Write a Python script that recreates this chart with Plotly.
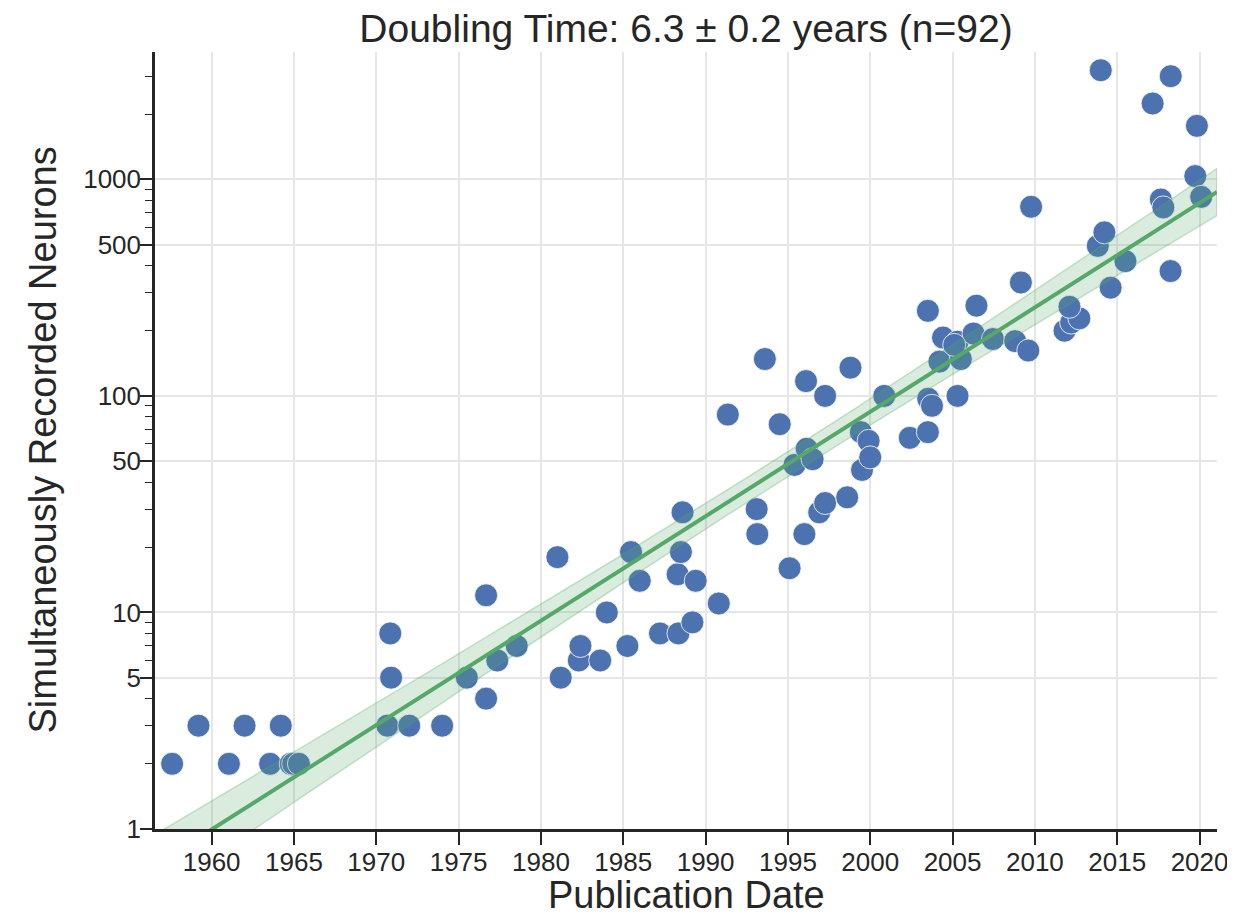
import numpy as np
import plotly.graph_objects as go

# ---- data ----
years = [
    1957.6, 1959.2, 1961.05, 1962.0, 1963.55, 1964.2, 1964.8, 1964.95, 1965.3,
    1970.85, 1970.9, 1970.67, 1972.0, 1974.0, 1975.5, 1976.67, 1976.67, 1977.35, 1978.53,
    1981.0, 1981.2, 1982.3, 1982.4, 1983.6, 1984.0, 1985.25, 1985.47, 1986.0,
    1987.23, 1988.35, 1988.3, 1988.5, 1988.6, 1989.2, 1989.4, 1990.8,
    1991.35, 1993.1, 1993.14, 1993.6, 1994.5, 1995.1, 1995.4, 1996.0, 1996.1,
    1996.14, 1996.5, 1996.9, 1997.26, 1997.26, 1998.6, 1998.8, 1999.43, 1999.5,
    1999.9, 2000.0, 2000.85, 2002.4,
    2003.5, 2003.5, 2003.52, 2003.75, 2004.2, 2004.42, 2005.3, 2005.3, 2005.5,
    2006.27, 2006.45, 2007.45, 2008.8, 2009.15, 2009.6, 2009.77, 2011.8, 2012.2,
    2012.7, 2012.1, 2005.1,
    2013.82, 2014.0, 2014.22, 2014.6, 2015.5, 2017.15, 2017.65, 2017.8, 2018.24,
    2018.25, 2019.74, 2019.84, 2020.1,
]
neurons = [
    2, 3, 2, 3, 2, 3, 2, 2, 2,
    8, 5, 3, 3, 3, 5, 12, 4, 6, 7,
    18, 5, 6, 7, 6, 10, 7, 19, 14,
    8, 8, 15, 19, 29, 9, 14, 11,
    82, 30, 23, 148, 74, 16, 48, 23, 117,
    57, 51, 29, 100, 32, 34, 135, 68, 45.5,
    62, 52, 100, 64,
    68, 247, 97, 90, 144, 186, 178, 100, 148,
    194, 261, 183, 179, 334, 162, 747, 200, 218,
    228, 258, 172,
    493, 3190, 569, 316, 419, 2240, 807, 742, 377,
    2994, 1035, 1766, 830,
]

x_ticks = [1960, 1965, 1970, 1975, 1980, 1985, 1990, 1995, 2000, 2005, 2010, 2015, 2020]
y_ticks = [1, 5, 10, 50, 100, 500, 1000]
y_tick_labels = ["1", "5", "10", "50", "100", "500", "1000"]
y_minor = [2, 3, 4, 6, 7, 8, 9, 20, 30, 40, 60, 70, 80, 90,
           200, 300, 400, 600, 700, 800, 900, 2000, 3000]

title_text = "Doubling Time: 6.3 \u00b1 0.2 years (n=92)"
x_label = "Publication Date"
y_label = "Simultaneously Recorded Neurons"

X_RANGE = [1956.56, 2021.06]
Y_RANGE_LOG = [0.0, 3.588]

# ---- regression in log space with 95% CI ----
xa = np.array(years, dtype=float)
ya = np.log10(np.array(neurons, dtype=float))
n = len(xa)
slope, intercept = np.polyfit(xa, ya, 1)
resid = ya - (slope * xa + intercept)
s = np.sqrt(np.sum(resid ** 2) / (n - 2))
xbar = xa.mean()
sxx = np.sum((xa - xbar) ** 2)
t = 1.987
xg = np.linspace(X_RANGE[0], X_RANGE[1], 300)
yg = slope * xg + intercept
half = t * s * np.sqrt(1.0 / n + (xg - xbar) ** 2 / sxx)
up = 10 ** (yg + half)
lo = 10 ** (yg - half)

GREEN = "#55A868"
BLUE = "#4C72B0"
TXT = "#262626"
FONT = "Liberation Sans, Arial, sans-serif"

# page body has an 8px margin, so the figure is sized to fit inside it
W, H = 1219, 905
ML, MR, MT, MB = 147, 10, 44, 84
PW = W - ML - MR
PH = H - MT - MB

fig = go.Figure()
fig.add_trace(go.Scatter(
    x=years, y=neurons, mode="markers",
    marker=dict(size=23, color=BLUE, line=dict(color="white", width=0.8)),
    showlegend=False, hoverinfo="x+y",
))
fig.add_trace(go.Scatter(
    x=np.concatenate([xg, xg[::-1]]), y=np.concatenate([up, lo[::-1]]),
    mode="lines", fill="toself", fillcolor="rgba(85,168,104,0.22)",
    line=dict(color="rgba(85,168,104,0.30)", width=1.5),
    showlegend=False, hoverinfo="skip",
))
fig.add_trace(go.Scatter(
    x=xg, y=10 ** yg, mode="lines",
    line=dict(color=GREEN, width=4),
    showlegend=False, hoverinfo="skip",
))

fig.update_layout(
    width=W, height=H,
    margin=dict(l=ML, r=MR, t=MT, b=MB, autoexpand=False),
    paper_bgcolor="white", plot_bgcolor="white",
    font=dict(family=FONT, color=TXT),
    title=dict(text=title_text, x=0.5, xref="paper", xanchor="center",
               y=1 - 20 / H, yref="container", yanchor="middle",
               font=dict(size=39, color=TXT, family=FONT)),
    annotations=[
        dict(text=x_label, xref="paper", yref="paper",
             x=0.5, y=(H - MB - 887) / PH, xanchor="center", yanchor="middle",
             showarrow=False, borderpad=0,
             font=dict(size=38, color=TXT, family=FONT)),
        dict(text=y_label, xref="paper", yref="paper",
             x=(34 - ML) / PW, y=0.5, xanchor="center", yanchor="middle",
             textangle=-90, showarrow=False, borderpad=0,
             font=dict(size=38, color=TXT, family=FONT)),
    ],
)
fig.update_xaxes(
    range=X_RANGE, tickmode="array", tickvals=x_ticks,
    showgrid=True, gridcolor="#E6E6E6", gridwidth=1.5,
    showline=True, linecolor=TXT, linewidth=2.5,
    ticks="outside", ticklen=13, tickwidth=1.5, tickcolor=TXT,
    tickfont=dict(size=26, color=TXT, family=FONT),
    ticklabelstandoff=-5, ticklabeloverflow="allow",
    zeroline=False, automargin=False,
)
fig.update_yaxes(
    type="log", range=Y_RANGE_LOG, tickmode="array",
    tickvals=y_ticks, ticktext=y_tick_labels,
    showgrid=True, gridcolor="#E6E6E6", gridwidth=1.5,
    showline=True, linecolor=TXT, linewidth=2.5,
    ticks="outside", ticklen=12, tickwidth=1.5, tickcolor=TXT,
    tickfont=dict(size=26, color=TXT, family=FONT),
    ticklabelstandoff=-6,
    minor=dict(tickmode="array", tickvals=y_minor, ticks="outside",
               ticklen=7, tickwidth=1.2, tickcolor=TXT, showgrid=False),
    zeroline=False, automargin=False,
)

fig.write_html("out.html")
